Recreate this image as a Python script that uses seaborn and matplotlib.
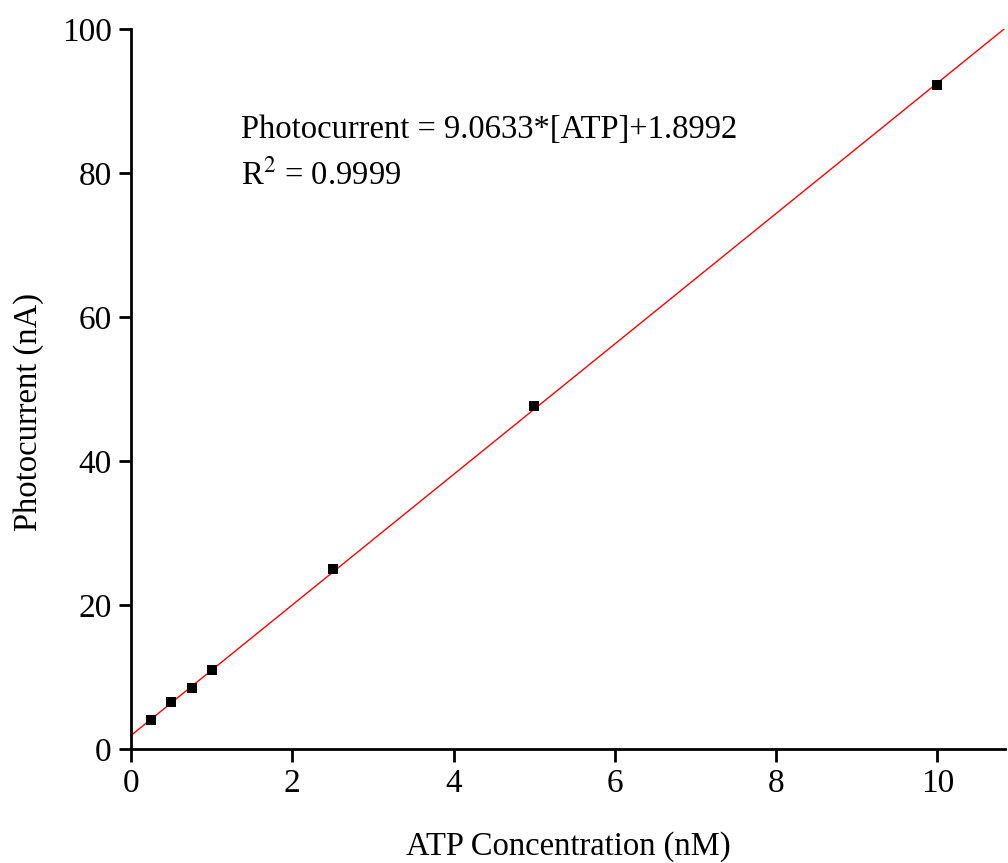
import numpy as np
import pandas as pd
import matplotlib
matplotlib.use("Agg")
import matplotlib.pyplot as plt
import seaborn as sns

atp = [0.25, 0.5, 0.75, 1.0, 2.5, 5.0, 10.0]
current = [4.0, 6.5, 8.5, 11.0, 25.0, 47.7, 92.3]
slope = 9.0633
intercept = 1.8992
fit_x = [0.0, 10.84]
fit_y = [slope * v + intercept for v in fit_x]
x_ticks = [0, 2, 4, 6, 8, 10]
y_ticks = [0, 20, 40, 60, 80, 100]

sns.set_style("ticks")
plt.rcParams['font.family'] = ['Liberation Serif', 'DejaVu Serif']
plt.rcParams['mathtext.fontset'] = 'stix'
plt.rcParams['text.color'] = 'black'
plt.rcParams['axes.labelcolor'] = 'black'
plt.rcParams['xtick.color'] = 'black'
plt.rcParams['ytick.color'] = 'black'

fig = plt.figure(figsize=(10.08, 8.63), dpi=100)
ax = fig.add_axes([0.130, 0.132, 0.867, 0.834])

df = pd.DataFrame({"x": atp, "y": current})
fit = pd.DataFrame({"x": fit_x, "y": fit_y})
sns.lineplot(data=fit, x="x", y="y", ax=ax, color="#ff0000", linewidth=1.0)
sns.scatterplot(data=df, x="x", y="y", ax=ax, marker="s", s=45, color="black",
                edgecolor="black", linewidth=0, zorder=3)

ax.set_xlim(0, 10.84)
ax.set_ylim(0, 100)
ax.set_xticks(x_ticks)
ax.set_yticks(y_ticks)
ax.tick_params(axis="both", direction="out", length=9, width=2, labelsize=24,
               color="black", labelcolor="black", pad=5)
for s in ["top", "right"]:
    ax.spines[s].set_visible(False)
for s in ["left", "bottom"]:
    ax.spines[s].set_linewidth(2)
    ax.spines[s].set_color("black")
ax.set_xlabel("ATP Concentration (nM)", fontsize=23.5, labelpad=23, color="black")
ax.set_ylabel("Photocurrent (nA)", fontsize=23.5, color="black")
ax.yaxis.set_label_coords(-0.100, 0.469)

ax.text(1.365, 86.0, "Photocurrent = 9.0633*[ATP]+1.8992", fontsize=23.5, ha="left", va="center", color="black")
ax.text(1.365, 79.7, r"R$^{2}$ = 0.9999", fontsize=23.5, ha="left", va="center", color="black")

fig.savefig("out.png", dpi=100, facecolor="white")
